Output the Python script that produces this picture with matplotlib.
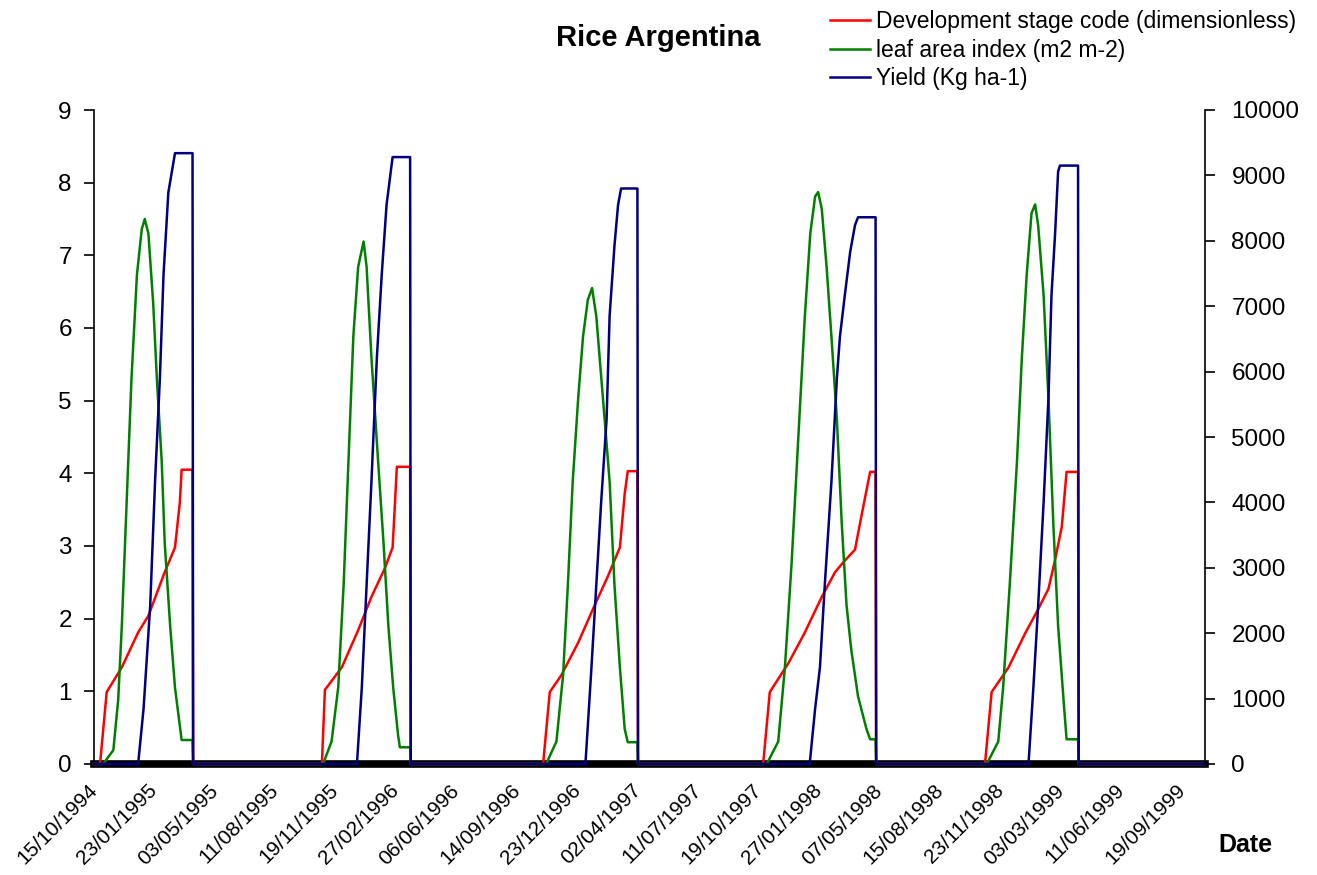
import matplotlib
matplotlib.use("Agg")
import matplotlib.pyplot as plt
from matplotlib.lines import Line2D
import pandas as pd

plt.rcParams["font.family"] = ["Liberation Sans", "DejaVu Sans"]

START = pd.Timestamp("1994-10-15")
END_DAY = 1838

# Simulation output, day number counted from 15/10/1994
dvs_days = [0,
            10, 21, 46, 73, 90, 117, 134, 142, 145, 163, 164,
            377, 382, 410, 437, 459, 481, 494, 498, 501, 523, 524,
            743, 754, 773, 801, 828, 850, 870, 878, 883, 899, 900,
            1107, 1118, 1149, 1176, 1204, 1226, 1240, 1259, 1270, 1284, 1293, 1294,
            1474, 1485, 1513, 1540, 1562, 1579, 1590, 1601, 1609, 1628, 1629,
            1837]
dvs_vals = [0,
            0, 0.99, 1.33, 1.81, 2.04, 2.64, 2.98, 3.6, 4.05, 4.05, 0,
            0, 1.02, 1.33, 1.84, 2.3, 2.69, 2.98, 3.6, 4.09, 4.09, 0,
            0, 0.99, 1.22, 1.67, 2.18, 2.58, 2.98, 3.72, 4.03, 4.03, 0,
            0, 0.99, 1.39, 1.81, 2.3, 2.64, 2.78, 2.95, 3.43, 4.02, 4.02, 0,
            0, 0.99, 1.33, 1.79, 2.13, 2.41, 2.81, 3.26, 4.02, 4.02, 0,
            0]

lai_days = [0,
            15, 32, 40, 46, 54, 62, 71, 79, 84, 90, 98, 104, 112, 117, 126, 134, 145, 163, 164,
            379, 393, 404, 413, 421, 429, 437, 446, 451, 459, 470, 479, 487, 495, 503, 506, 523, 524,
            748, 765, 776, 784, 792, 801, 809, 817, 824, 831, 842, 853, 861, 870, 878, 883, 899, 900,
            1113, 1132, 1143, 1154, 1165, 1176, 1185, 1193, 1198, 1204, 1212, 1220, 1229, 1237,
            1245, 1253, 1264, 1278, 1284, 1293, 1294,
            1477, 1496, 1504, 1515, 1527, 1535, 1543, 1551, 1557, 1562, 1571, 1579, 1587, 1595,
            1604, 1609, 1628, 1629,
            1837]
lai_vals = [0,
            0, 0.19, 0.88, 1.9, 3.6, 5.3, 6.73, 7.36, 7.5, 7.3, 6.33, 5.3, 4.17, 3.04, 1.9, 1.05, 0.33, 0.33, 0,
            0, 0.31, 1.05, 2.47, 4.17, 5.88, 6.84, 7.19, 6.84, 5.59, 4.17, 3.04, 1.9, 1.05, 0.4, 0.23, 0.23, 0,
            0, 0.31, 1.22, 2.47, 3.89, 5.03, 5.88, 6.39, 6.55, 6.16, 5.03, 3.89, 2.47, 1.33, 0.48, 0.3, 0.3, 0,
            0, 0.31, 1.33, 2.75, 4.46, 6.16, 7.3, 7.81, 7.87, 7.64, 6.84, 5.88, 4.74, 3.32,
            2.18, 1.56, 0.93, 0.48, 0.34, 0.34, 0,
            0, 0.31, 1.05, 2.47, 4.17, 5.59, 6.73, 7.58, 7.7, 7.41, 6.45, 5.03, 3.32, 1.9,
            0.88, 0.34, 0.34, 0,
            0]

yield_days = [0,
              73, 82, 93, 101, 109, 115, 123, 134, 163, 164,
              435, 443, 451, 459, 468, 476, 484, 494, 523, 524,
              813, 823, 831, 839, 848, 853, 861, 867, 872, 899, 900,
              1184, 1193, 1201, 1209, 1220, 1229, 1234, 1242, 1251, 1259, 1264, 1293, 1294,
              1546, 1554, 1562, 1571, 1579, 1584, 1590, 1595, 1598, 1628, 1629,
              1837]
yield_vals = [0,
              0, 846, 2425, 4320, 5900, 7480, 8740, 9340, 9340, 0,
              0, 1160, 2740, 4320, 6220, 7480, 8550, 9280, 9280, 0,
              0, 1480, 2740, 4000, 5270, 6850, 7920, 8550, 8800, 8800, 0,
              0, 846, 1480, 2740, 4320, 5900, 6530, 7160, 7830, 8240, 8360, 8360, 0,
              0, 1160, 2425, 4000, 5590, 7160, 8110, 9060, 9150, 9150, 0,
              0]

tick_days = list(range(0, 1801, 100))
left_ticks = list(range(0, 10))
right_ticks = list(range(0, 10001, 1000))


def as_dates(days):
    return START + pd.to_timedelta(days, unit="D")


fig = plt.figure(figsize=(13.17, 8.75), dpi=100)
ax = fig.add_axes([94 / 1317, 111 / 875, 1111 / 1317, 654 / 875])
ax2 = ax.twinx()

ax.set_xlim(START, START + pd.Timedelta(days=END_DAY))
ax.set_ylim(0, 9)
ax2.set_ylim(0, 10000)

# heavy category axis line at zero
ax.axhline(0, color="black", lw=5.5, zorder=1, clip_on=False)

lw = 1.8
ax.plot(as_dates(dvs_days), dvs_vals, color="#ff0000", lw=lw, clip_on=False, zorder=3)
ax.plot(as_dates(lai_days), lai_vals, color="#008000", lw=lw, clip_on=False, zorder=3)
ax2.plot(as_dates(yield_days), yield_vals, color="#000080", lw=lw, clip_on=False, zorder=3)

ax.set_yticks(left_ticks)
ax2.set_yticks(right_ticks)
ax.tick_params(axis="y", labelsize=17.5, length=7, width=1.2, direction="out", pad=9)
ax2.tick_params(axis="y", labelsize=17.5, length=7, width=1.2, direction="out", pad=12)

tick_dates = as_dates(tick_days)
ax.set_xticks(tick_dates)
ax.set_xticklabels([d.strftime("%d/%m/%Y") for d in tick_dates], rotation=45,
                   ha="right", va="center", rotation_mode="anchor", fontsize=15)
ax.tick_params(axis="x", length=0, pad=17)

for a in (ax, ax2):
    a.spines["top"].set_visible(False)
    a.spines["bottom"].set_visible(False)
    a.patch.set_visible(False)
ax.spines["left"].set_linewidth(1.2)
ax2.spines["right"].set_linewidth(1.2)
ax2.spines["left"].set_visible(False)
ax.spines["right"].set_visible(False)

fig.text(658 / 1317, 1 - 38 / 875, "Rice Argentina", ha="center", va="center",
         fontsize=21, fontweight="bold")
fig.text(1245 / 1317, 1 - 845 / 875, "Date", ha="center", va="center",
         fontsize=18, fontweight="bold")

handles = [Line2D([], [], color="#ff0000", lw=lw),
           Line2D([], [], color="#008000", lw=lw),
           Line2D([], [], color="#000080", lw=lw)]
labels = ["Development stage code (dimensionless)",
          "leaf area index (m2 m-2)",
          "Yield (Kg ha-1)"]
fig.legend(handles, labels, loc="upper left", bbox_to_anchor=(830 / 1317, 1 - 10 / 875),
           frameon=False, fontsize=16.5, handlelength=1.75, handletextpad=0.25,
           labelspacing=0.25, borderpad=0, borderaxespad=0)

fig.savefig("out.png", dpi=100)
